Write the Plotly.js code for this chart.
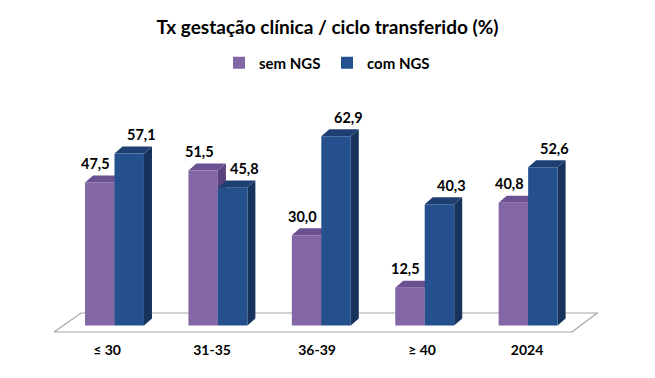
<!DOCTYPE html>
<html>
<head>
<meta charset="utf-8">
<script src="https://cdn.plot.ly/plotly-3.0.1.min.js"></script>
<style>html,body{margin:0;padding:0;background:#fff;}#chart{width:655px;height:378px;}</style>
</head>
<body>
<div id="chart"></div>
<script>
var categories = ["≤ 30", "31-35", "36-39", "≥ 40", "2024"];
var semNGS = [47.5, 51.5, 30.0, 12.5, 40.8];
var comNGS = [57.1, 45.8, 62.9, 40.3, 52.6];
var seriesNames = ["sem NGS", "com NGS"];

var FONT = "Lato, 'Open Sans', sans-serif";
var W = 0.285;          // bar width (x units)
var DX = 0.0774;        // depth offset x (x units)
var DY = 2.33;          // depth offset y (y units)
var idx = categories.map(function (c, i) { return i; });
// perspective: labels sit slightly left of the bar groups, less so to the right
var tickPos = idx.map(function (i) { return i * 1.0155 - 0.0725; });

var purple = {front: "#8266A6", top: "#6C5192", side: "#5A437C"};
var blue = {front: "#24508E", top: "#1E3F72", side: "#17335C"};

function fmt(v) { return v.toFixed(1).replace(".", ","); }

var shapes = [];
// floor
shapes.push({
  type: "path", xref: "x", yref: "y", layer: "below",
  path: "M -0.585,-2.16 L -0.324,4.15 L 4.667,4.15 L 4.425,-2.16 Z",
  fillcolor: "#FFFFFF", line: {color: "#A6A6A6", width: 1.2}
});
function faces(vals, off, col) {
  vals.forEach(function (v, i) {
    var x0 = i + off, x1 = i + off + W;
    shapes.push({type: "path", xref: "x", yref: "y", layer: "below",
      path: "M " + x1 + ",0 L " + (x1 + DX) + "," + DY + " L " + (x1 + DX) + "," + (v + DY) + " L " + x1 + "," + v + " Z",
      fillcolor: col.side, line: {width: 0}});
    shapes.push({type: "path", xref: "x", yref: "y", layer: "below",
      path: "M " + x0 + "," + v + " L " + (x0 + DX) + "," + (v + DY) + " L " + (x1 + DX) + "," + (v + DY) + " L " + x1 + "," + v + " Z",
      fillcolor: col.top, line: {width: 0}});
  });
}
faces(semNGS, -W, purple);
faces(comNGS, 0, blue);

var annotations = [];
semNGS.forEach(function (v, i) {
  annotations.push({x: i - W / 2, y: v, xref: "x", yref: "y", text: fmt(v), showarrow: false,
    xanchor: "center", yanchor: "middle", xshift: -4, yshift: 19,
    font: {family: FONT, size: 14.5, color: "#000", weight: "bold"}});
});
comNGS.forEach(function (v, i) {
  annotations.push({x: i + W / 2, y: v, xref: "x", yref: "y", text: fmt(v), showarrow: false,
    xanchor: "center", yanchor: "middle", xshift: 12, yshift: 19,
    font: {family: FONT, size: 14.5, color: "#000", weight: "bold"}});
});

var traces = [
  {type: "bar", name: seriesNames[0], x: idx, y: semNGS, width: W, offset: -W,
   marker: {color: purple.front, line: {width: 0}}, hoverinfo: "skip"},
  {type: "bar", name: seriesNames[1], x: idx, y: comNGS, width: W, offset: 0,
   marker: {color: blue.front, line: {width: 0}}, hoverinfo: "skip"}
];

var layout = {
  width: 655, height: 378,
  margin: {l: 54, r: 55, t: 100, b: 38},
  paper_bgcolor: "#FFFFFF", plot_bgcolor: "#FFFFFF",
  separators: ", ",
  barmode: "overlay",
  showlegend: true,
  title: {text: "<b>Tx gestação clínica / ciclo transferido (%)</b>", x: 0.5, xanchor: "center",
    y: 1 - 27 / 378, yanchor: "middle", font: {family: FONT, size: 19, color: "#000"}},
  legend: {orientation: "h", x: 0.5, xanchor: "center", y: (340 - 63) / 240, yanchor: "middle",
    font: {family: FONT, size: 15, color: "#000", weight: "bold"}, traceorder: "normal",
    itemwidth: 30, entrywidth: 63, entrywidthmode: "pixels"},
  xaxis: {range: [-0.585, 4.695], tickvals: tickPos, ticktext: categories, showgrid: false,
    zeroline: false, showline: false, ticks: "", fixedrange: true,
    tickfont: {family: FONT, size: 14, color: "#000", weight: "bold"}},
  yaxis: {range: [-4.82, 74.91], showgrid: false, zeroline: false, showline: false,
    showticklabels: false, ticks: "", fixedrange: true},
  shapes: shapes,
  annotations: annotations
};

Plotly.newPlot("chart", traces, layout, {displayModeBar: false, staticPlot: true});
</script>
</body>
</html>
